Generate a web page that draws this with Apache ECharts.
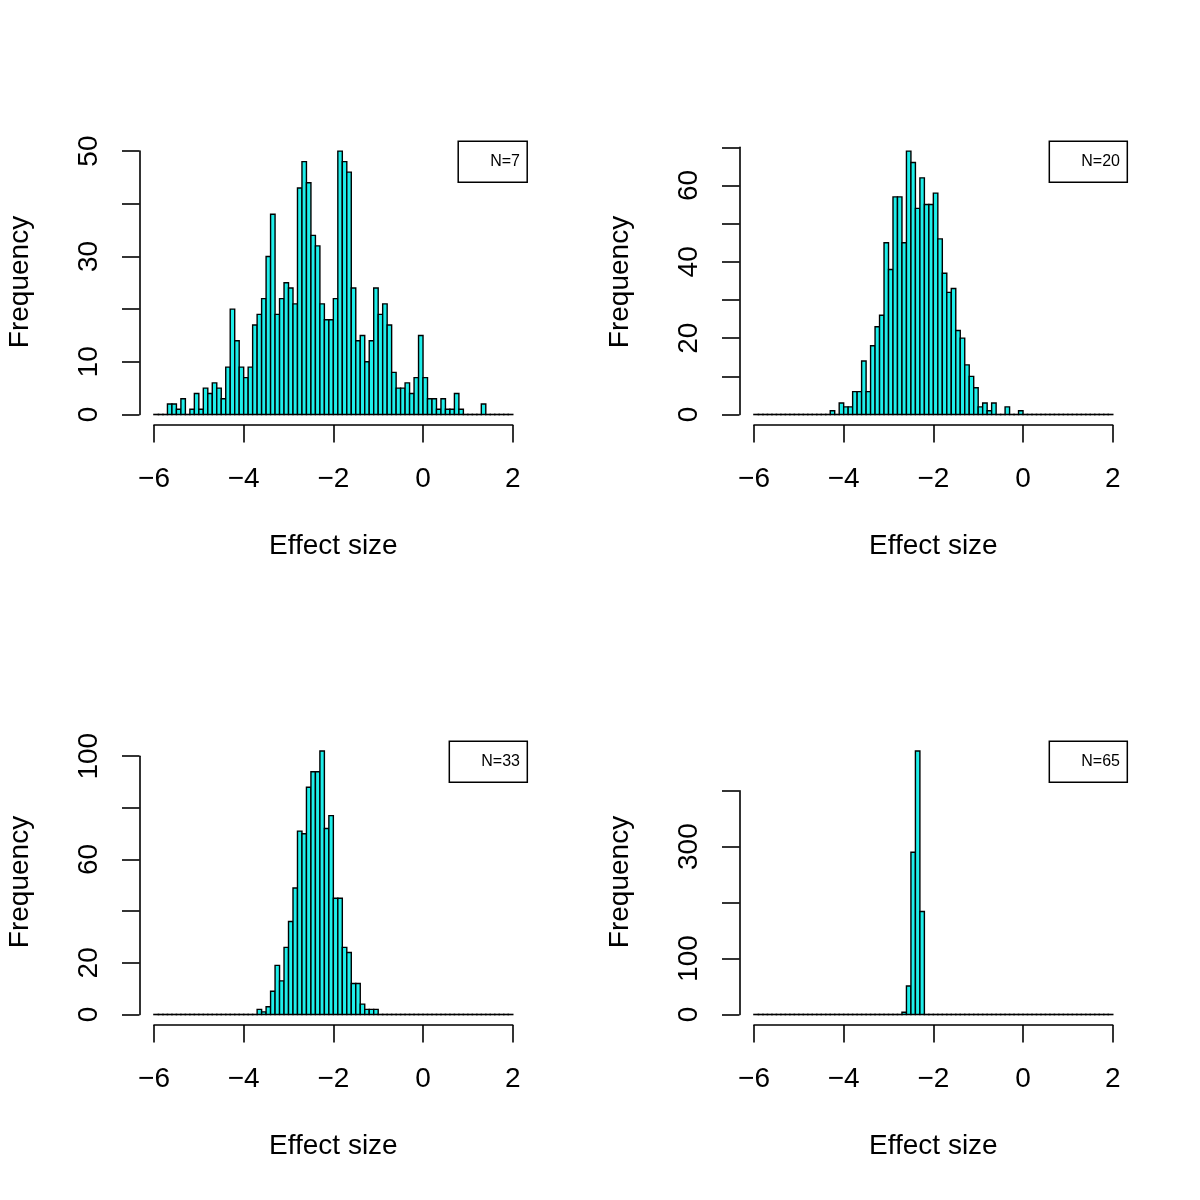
<!DOCTYPE html>
<html><head><meta charset="utf-8">
<script src="https://cdn.jsdelivr.net/npm/echarts@6/dist/echarts.min.js"></script>
<style>html,body{margin:0;padding:0;background:#fff}#chart{width:1200px;height:1200px}</style>
</head><body><div id="chart"></div>
<script>
// ---------------- data ----------------
const breakStart = -6;          // first histogram break
const binWidth = 0.1;           // histogram bin width
const panelLabels = ['N=7', 'N=20', 'N=33', 'N=65'];
const xTicks = [-6, -4, -2, 0, 2];

const countsN7 = [
  0,0,0,2,2,1,3,0,1,4,
  1,5,4,6,5,3,9,20,14,9,
  7,9,17,19,22,30,38,19,22,25,
  24,21,43,48,44,34,32,21,18,18,
  22,50,48,46,24,14,15,10,14,24,
  19,21,17,8,5,5,6,4,7,15,
  7,3,3,1,3,1,1,4,1,0,
  0,0,0,2,0,0,0,0,0,0];
const countsN20 = [
  0,0,0,0,0,0,0,0,0,0,
  0,0,0,0,0,0,0,1,0,3,
  2,2,6,6,14,6,18,23,26,45,
  38,57,57,45,69,66,54,62,55,55,
  58,46,37,32,33,22,20,13,10,7,
  2,3,1,3,0,0,2,0,0,1,
  0,0,0,0,0,0,0,0,0,0,
  0,0,0,0,0,0,0,0,0,0];
const countsN33 = [
  0,0,0,0,0,0,0,0,0,0,
  0,0,0,0,0,0,0,0,0,0,
  0,0,0,2,1,3,9,19,13,26,
  36,49,71,70,88,94,94,102,72,77,
  45,45,26,24,12,12,4,2,2,2,
  0,0,0,0,0,0,0,0,0,0,
  0,0,0,0,0,0,0,0,0,0,
  0,0,0,0,0,0,0,0,0,0];
const countsN65 = [
  0,0,0,0,0,0,0,0,0,0,
  0,0,0,0,0,0,0,0,0,0,
  0,0,0,0,0,0,0,0,0,0,
  0,0,0,4,51,290,471,184,0,0,
  0,0,0,0,0,0,0,0,0,0,
  0,0,0,0,0,0,0,0,0,0,
  0,0,0,0,0,0,0,0,0,0,
  0,0,0,0,0,0,0,0,0,0];

const yTicksN7  = [0, 10, 20, 30, 40, 50];
const yTicksN20 = [0, 10, 20, 30, 40, 50, 60, 70];
const yTicksN33 = [0, 20, 40, 60, 80, 100];
const yTicksN65 = [0, 100, 200, 300, 400];
const yLabelsN7  = [0, 10, 30, 50];
const yLabelsN20 = [0, 20, 40, 60];
const yLabelsN33 = [0, 20, 60, 100];
const yLabelsN65 = [0, 100, 300];

const xTitle = 'Effect size';
const yTitle = 'Frequency';

// ---------------- layout ----------------
const counts = [countsN7, countsN20, countsN33, countsN65];
const yTicks = [yTicksN7, yTicksN20, yTicksN33, yTicksN65];
const yLabels = [yLabelsN7, yLabelsN20, yLabelsN33, yLabelsN65];
const grids = [
  {left: 154, top: 151.1, width: 358.7, height: 263.4},
  {left: 754, top: 147.3, width: 358.7, height: 267.2},
  {left: 154, top: 756.2, width: 358.7, height: 258.3},
  {left: 754, top: 790.7, width: 358.7, height: 223.8}
];
const FONT = '"Liberation Sans", Arial, Helvetica, sans-serif';
const FILL = '#1EEEEA';
const LW = 1.4;

function minus(v) { return v < 0 ? '\u2212' + Math.abs(v) : String(v); }

function renderBin(params, api) {
  const x0 = api.value(0), x1 = api.value(1), h = api.value(2);
  const a = api.coord([x0, 0]), b = api.coord([x1, h]);
  if (h === 0) {
    return {type: 'line', shape: {x1: a[0], y1: a[1], x2: b[0], y2: a[1]},
            style: {stroke: '#000', lineWidth: 1.6, lineCap: 'square'}};
  }
  return {type: 'rect',
          shape: {x: a[0], y: b[1], width: b[0] - a[0], height: a[1] - b[1]},
          style: {fill: FILL, stroke: '#000', lineWidth: LW}};
}

const axisLineStyle = {color: '#000', width: 1.6};
const option = {
  backgroundColor: '#fff',
  animation: false,
  grid: grids.map(g => Object.assign({containLabel: false, outerBoundsMode: 'none'}, g)),
  xAxis: grids.map((g, i) => ({
    type: 'value', gridIndex: i, min: xTicks[0], max: xTicks[xTicks.length - 1],
    interval: xTicks[1] - xTicks[0], offset: 10.5, position: 'bottom',
    splitLine: {show: false},
    axisLine: {show: true, onZero: false, lineStyle: axisLineStyle},
    axisTick: {show: true, length: 17.5, lineStyle: axisLineStyle},
    axisLabel: {show: true, margin: 40, fontSize: 28, fontFamily: FONT, color: '#000',
                formatter: v => minus(v)}
  })),
  yAxis: grids.map((g, i) => ({
    type: 'value', gridIndex: i, min: yTicks[i][0], max: yTicks[i][yTicks[i].length - 1],
    interval: yTicks[i][1] - yTicks[i][0], offset: 14.5, position: 'left',
    splitLine: {show: false},
    axisLine: {show: true, onZero: false, lineStyle: axisLineStyle},
    axisTick: {show: true, length: 17.5, lineStyle: axisLineStyle},
    axisLabel: {show: true, rotate: 90, margin: 36.5, fontSize: 28, fontFamily: FONT, color: '#000',
                formatter: v => (yLabels[i].indexOf(v) >= 0 ? String(v) : '')}
  })),
  title: grids.map((g, i) => ({
    text: panelLabels[i],
    right: 1200 - (g.left + g.width + 14.6),
    top: (i < 2 ? 140.5 : 740.5),
    padding: [12.75, 7.3, 12.75, 32.7],
    borderColor: '#000', borderWidth: 1.5,
    textStyle: {fontSize: 16, fontWeight: 'normal', fontFamily: FONT, color: '#000'}
  })),
  graphic: [].concat(...grids.map((g, i) => [
    {type: 'text', x: g.left + g.width / 2, y: (i < 2 ? 546 : 1146),
     style: {text: xTitle, font: '28px ' + FONT, fill: '#000',
             textAlign: 'center', textVerticalAlign: 'middle', align: 'center', verticalAlign: 'middle'}},
    {type: 'text', x: (i % 2 === 0 ? 19.8 : 619.8), y: (i < 2 ? 282 : 882), rotation: Math.PI / 2,
     style: {text: yTitle, font: '28px ' + FONT, fill: '#000',
             textAlign: 'center', textVerticalAlign: 'middle', align: 'center', verticalAlign: 'middle'}}
  ])),
  series: counts.map((c, i) => ({
    type: 'custom', xAxisIndex: i, yAxisIndex: i, clip: false, silent: true,
    encode: {x: [0, 1], y: 2},
    data: c.map((v, k) => [breakStart + k * binWidth, breakStart + (k + 1) * binWidth, v]),
    renderItem: renderBin
  }))
};

const chart = echarts.init(document.getElementById('chart'), null, {renderer: 'canvas', width: 1200, height: 1200});
chart.setOption(option);
</script>
</body></html>
